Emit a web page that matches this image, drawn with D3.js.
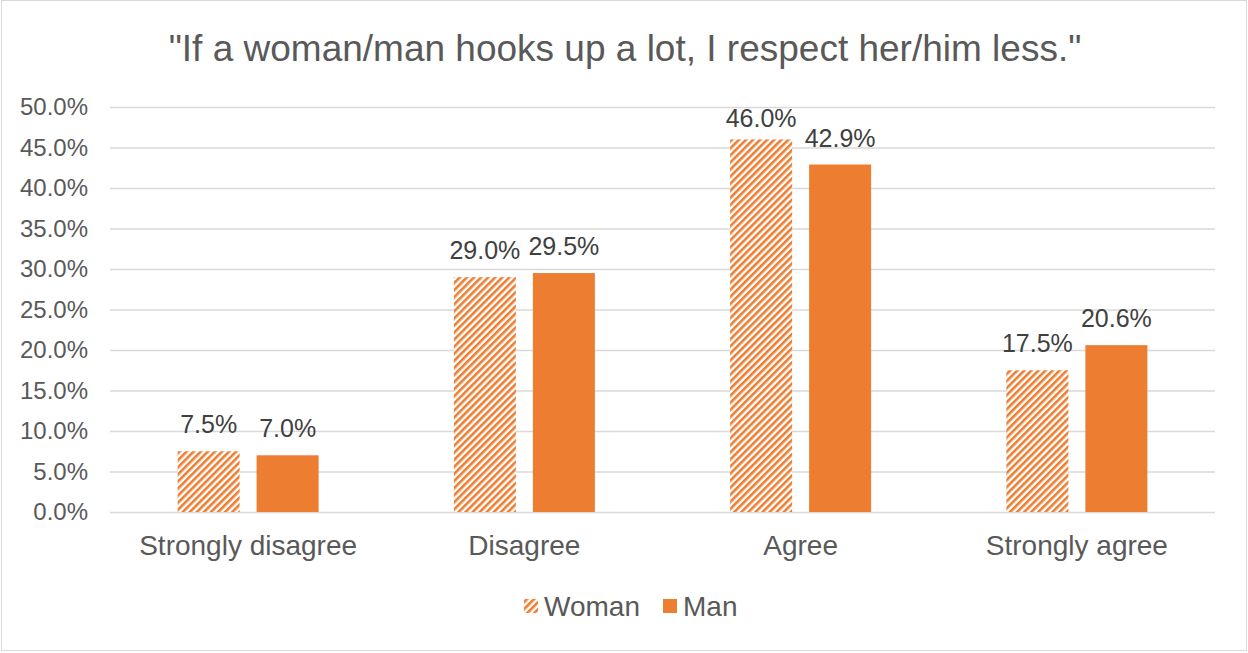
<!DOCTYPE html>
<html><head><meta charset="utf-8">
<script src="https://cdn.jsdelivr.net/npm/d3@7"></script>
<style>body{margin:0;background:#fff}svg{display:block}text{font-family:"Liberation Sans",Arial,sans-serif}</style>
</head><body><svg id="c" width="1248" height="653"></svg>
<script>
const categories = ["Strongly disagree","Disagree","Agree","Strongly agree"];
const series = ["Woman","Man"];
const woman = [7.5, 29.0, 46.0, 17.5];
const man = [7.0, 29.5, 42.9, 20.6];
const yTicks = [0,5,10,15,20,25,30,35,40,45,50];
const title = "\"If a woman/man hooks up a lot, I respect her/him less.\"";

(function(){
const svg = d3.select("#c");
const W=1248,H=653;
const orange="#ED7D31";
svg.append("rect").attr("x",1.5).attr("y",0.5).attr("width",W-3).attr("height",H-3).attr("fill","#fff").attr("stroke","#d9d9d9");

const defs=svg.append("defs");
const pat=defs.append("pattern").attr("id","hatch").attr("patternUnits","userSpaceOnUse")
  .attr("width",5).attr("height",5).attr("patternTransform","rotate(45)");
pat.append("rect").attr("width",5).attr("height",5).attr("fill","#fff");
pat.append("rect").attr("x",0).attr("y",0).attr("width",2.6).attr("height",5).attr("fill",orange);

const pl=110,pr=1215,pt=107,pb=512;
const x=d3.scaleBand().domain(categories).range([pl,pr]);
const y=d3.scaleLinear().domain([0,50]).range([pb,pt]);
const xs=d3.scaleBand().domain(series).range([x.bandwidth()/2-70.5,x.bandwidth()/2+70.5]).paddingInner(0.215);

svg.append("text").attr("x",625).attr("y",61).attr("text-anchor","middle").attr("font-size",37).attr("fill","#595959").text(title);

const ya=svg.append("g").attr("transform",`translate(${pl},0)`)
 .call(d3.axisLeft(y).tickValues(yTicks).tickSize(-(pr-pl)).tickFormat(d=>d.toFixed(1)+"%"));
ya.select(".domain").remove();
ya.selectAll(".tick line").attr("stroke","#d9d9d9").attr("stroke-width",1.3);
ya.selectAll(".tick text").attr("font-size",24).attr("fill","#595959").attr("x",-22).style("font-family","Liberation Sans, Arial, sans-serif");

const xa=svg.append("g").attr("transform",`translate(0,${pb})`).call(d3.axisBottom(x).tickSize(0));
xa.select(".domain").remove();
xa.selectAll(".tick text").attr("font-size",28).attr("fill","#595959").attr("y",0).attr("dy",43).style("font-family","Liberation Sans, Arial, sans-serif");

const data=[woman,man];
series.forEach((s,si)=>{
  const g=svg.append("g");
  categories.forEach((c,ci)=>{
    const v=data[si][ci];
    const bx=x(c)+xs(s);
    g.append("rect").attr("x",bx).attr("y",y(v)).attr("width",xs.bandwidth()).attr("height",pb-y(v))
      .attr("fill",si===0?"url(#hatch)":orange);
    g.append("text").attr("x",bx+xs.bandwidth()/2).attr("y",Math.max(y(v)-18,127)).attr("text-anchor","middle")
      .attr("font-size",25).attr("fill","#404040").text(v.toFixed(1)+"%");
  });
});

const lg=svg.append("g");
const items=[{s:"Woman",x:524},{s:"Man",x:663}];
items.forEach((it,i)=>{
  lg.append("rect").attr("x",it.x).attr("y",599).attr("width",14).attr("height",14).attr("fill",i===0?"url(#hatch)":orange);
  lg.append("text").attr("x",it.x+20).attr("y",616).attr("font-size",28).attr("fill","#595959").text(it.s);
});
})();
</script></body></html>
